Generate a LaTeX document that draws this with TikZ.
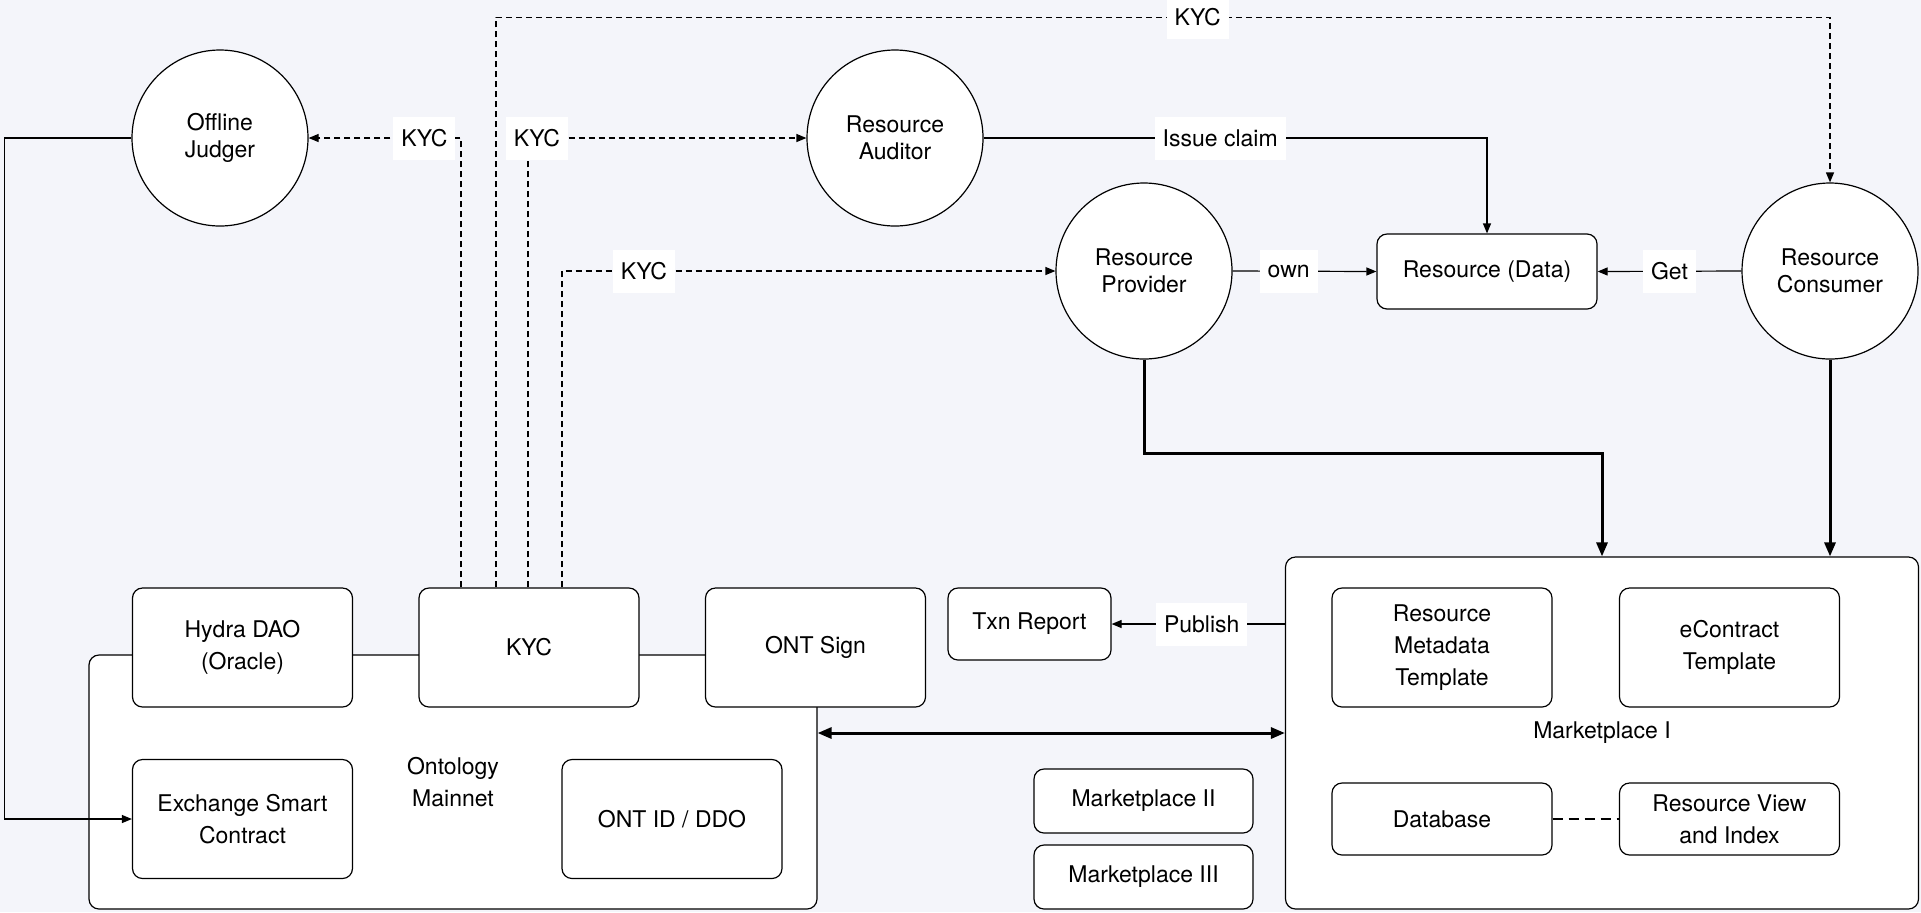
\documentclass[tikz,border=0pt]{standalone}
\usepackage{fontspec}
\setmainfont{TeX Gyre Heros}
\definecolor{PageBg}{RGB}{244, 245, 250}
\usetikzlibrary{arrows.meta, positioning, calc}

\tikzset{
  actor/.style={circle, draw, fill=white, line width=0.6pt, minimum size=88pt, inner sep=0pt, align=center,
    font=\fontsize{11.5}{13.5}\selectfont},
  unit/.style={draw, fill=white, rounded corners=5pt, line width=0.6pt, align=center, inner sep=0pt,
    minimum width=110pt, minimum height=59.5pt},
  lbl/.style={fill=white, inner xsep=4pt, inner ysep=0pt, minimum height=21.5pt},
  link/.style={line width=0.6pt, -{Triangle[length=5pt, width=4pt]}},
  kyc/.style={link, dash pattern=on 3pt off 2pt},
  heavy/.style={line width=1.5pt, -{Triangle[length=7pt, width=5.5pt]}},
}

\begin{document}
\begin{tikzpicture}[x=0.5pt, y=-0.5pt, font=\fontsize{11.5}{16}\selectfont]
  \useasboundingbox (0,0) rectangle (1921,912);
  \fill[PageBg] (0,0) rectangle (1921,912);

  % actors
  \node[actor] (judger) at (220,138) {Offline\\Judger};
  \node[actor] (auditor) at (895,138) {Resource\\Auditor};
  \node[actor] (provider) at (1144,271) {Resource\\Provider};
  \node[actor] (consumer) at (1830,271) {Resource\\Consumer};
  \node[unit, minimum height=37.5pt] (data) at (1487,271.5) {Resource (Data)};

  % ontology mainnet
  \node[unit, minimum width=364pt, minimum height=127pt] (mainnet) at (453,782) {Ontology\\Mainnet};
  \node[unit] (hydra) at (242.5,647.5) {Hydra DAO\\(Oracle)};
  \node[unit] (kycbox) at (529,647.5) {KYC};
  \node[unit] (sign) at (815.5,647.5) {ONT Sign};
  \node[unit] (exchange) at (242.5,819) {Exchange Smart\\Contract};
  \node[unit] (ontid) at (672,819) {ONT ID / DDO};

  % marketplaces
  \node[unit, minimum width=81.5pt, minimum height=36pt] (txn) at (1029.5,624) {Txn Report};
  \node[unit, minimum width=109.5pt, minimum height=32pt] (mkt2) at (1143.5,801) {Marketplace II};
  \node[unit, minimum width=109.5pt, minimum height=32pt] (mkt3) at (1143.5,877) {Marketplace III};
  \node[unit, minimum width=316.5pt, minimum height=176pt] (market) at (1602,733) {Marketplace I};
  \node[unit] (meta) at (1442,647.5) {Resource\\Metadata\\Template};
  \node[unit] (econtract) at (1729.5,647.5) {eContract\\Template};
  \node[unit, minimum height=36pt] (database) at (1442,819) {Database};
  \node[unit, minimum height=36pt] (view) at (1729.5,819) {Resource View\\and Index};

  % kyc links
  \coordinate (k1) at ($(kycbox.north)+(-68,0)$);
  \coordinate (k2) at ($(kycbox.north)+(-33,0)$);
  \coordinate (k3) at ($(kycbox.north)+(-1,0)$);
  \coordinate (k4) at ($(kycbox.north)+(33,0)$);
  \draw[kyc] (k1) |- (judger.east) node[lbl, pos=0.62] {KYC};
  \draw[kyc] (k2) -- ++(0,-570) -| (consumer.north) node[lbl, pos=0.263] {KYC};
  \draw[kyc] (k3) |- (auditor.west) node[lbl, pos=0.516] {KYC};
  \draw[kyc] (k4) |- (provider.west) node[lbl, pos=0.583] {KYC};

  % resource flows
  \draw[link] (auditor.east) -| (data.north) node[lbl, pos=0.235] {Issue claim};
  \draw[link] (provider.east) -- (data.west) node[lbl, pos=0.39] {own};
  \draw[link] (consumer.west) -- (data.east) node[lbl, pos=0.5] {Get};
  \draw[link] (judger.west) -- ++(-127,0) |- (exchange.west);
  \draw[heavy] (provider.south) -- ++(0,94) -| (market.north);
  \draw[heavy] (consumer.south) -- (consumer.south |- market.north);
  \draw[heavy, {Triangle[length=7pt, width=5.5pt]}-{Triangle[length=7pt, width=5.5pt]}]
    (market.west -| mainnet.east) -- (market.west);
  \draw[link] (market.west |- txn.east) -- (txn.east) node[lbl, pos=0.48] {Publish};
  \draw[line width=0.6pt, dash pattern=on 5pt off 3pt] (database) -- (view);
\end{tikzpicture}
\end{document}
